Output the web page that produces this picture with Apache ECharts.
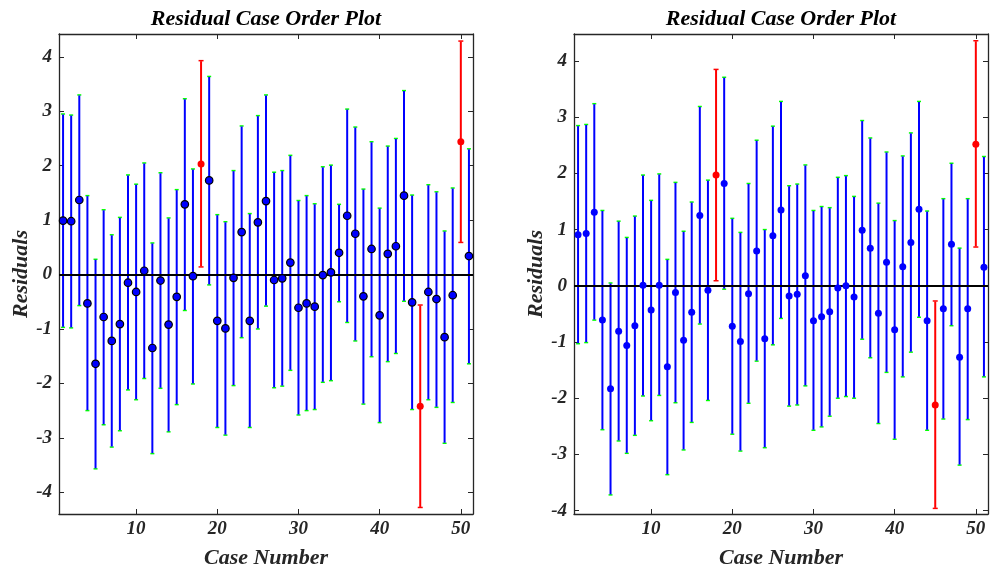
<!DOCTYPE html>
<html>
<head>
<meta charset="utf-8">
<script src="https://cdn.jsdelivr.net/npm/echarts@6/dist/echarts.min.js"></script>
<style>html,body{margin:0;padding:0;background:#fff}#c{width:996px;height:571px}</style>
</head>
<body>
<div id="c"></div>
<script>
const caseNo = [1,2,3,4,5,6,7,8,9,10,11,12,13,14,15,16,17,18,19,20,21,22,23,24,25,26,27,28,29,30,31,32,33,34,35,36,37,38,39,40,41,42,43,44,45,46,47,48,49,50,51];
const outlierCases = [18,45,50];
const xTicks = [10,20,30,40,50];
const yTicks = [-4,-3,-2,-1,0,1,2,3,4];

const leftResid = [0.99,0.98,1.37,-0.53,-1.64,-0.78,-1.22,-0.91,-0.15,-0.32,0.07,-1.35,-0.11,-0.92,-0.41,1.29,-0.03,2.03,1.73,-0.85,-0.99,-0.06,0.78,-0.85,0.96,1.35,-0.10,-0.07,0.22,-0.61,-0.53,-0.59,-0.01,0.04,0.40,1.08,0.75,-0.40,0.47,-0.75,0.38,0.52,1.45,-0.51,-2.42,-0.32,-0.45,-1.15,-0.38,2.44,0.34];
const leftLower = [-0.97,-0.98,-0.57,-2.50,-3.57,-2.76,-3.17,-2.87,-2.12,-2.30,-1.91,-3.29,-2.09,-2.89,-2.39,-0.66,-2.01,0.14,-0.19,-2.81,-2.95,-2.04,-1.16,-2.81,-1.00,-0.58,-2.08,-2.05,-1.76,-2.58,-2.50,-2.48,-1.98,-1.95,-0.50,-0.88,-1.22,-2.38,-1.51,-2.72,-1.60,-1.45,-0.49,-2.48,-4.28,-2.30,-2.44,-3.10,-2.35,0.59,-1.64];
const leftUpper = [2.95,2.93,3.30,1.45,0.28,1.19,0.73,1.05,1.83,1.66,2.05,0.58,1.87,1.04,1.56,3.23,1.94,3.93,3.64,1.10,0.97,1.91,2.73,1.12,2.92,3.30,1.88,1.91,2.19,1.36,1.45,1.30,1.98,2.01,1.29,3.04,2.71,1.57,2.44,1.22,2.36,2.50,3.38,1.46,-0.56,1.65,1.52,0.80,1.59,4.29,2.31];

const rightResid = [0.91,0.93,1.31,-0.61,-1.83,-0.81,-1.06,-0.71,0.01,-0.43,0.01,-1.44,-0.12,-0.97,-0.47,1.25,-0.08,1.97,1.82,-0.72,-0.99,-0.14,0.62,-0.94,0.89,1.35,-0.18,-0.15,0.18,-0.62,-0.55,-0.46,-0.04,0.00,-0.20,0.99,0.67,-0.49,0.42,-0.78,0.34,0.77,1.36,-0.62,-2.12,-0.41,0.74,-1.27,-0.41,2.52,0.33];
const rightLower = [-1.03,-1.01,-0.61,-2.56,-3.72,-2.76,-2.98,-2.66,-1.96,-2.40,-1.95,-3.36,-2.08,-2.92,-2.43,-0.68,-2.04,0.09,-0.06,-2.64,-2.94,-2.09,-1.34,-2.88,-1.05,-0.58,-2.14,-2.12,-1.78,-2.57,-2.51,-2.32,-2.00,-1.97,-2.00,-0.95,-1.28,-2.45,-1.54,-2.73,-1.62,-1.18,-0.56,-2.57,-3.96,-2.37,-0.71,-3.19,-2.38,0.69,-1.62];
const rightUpper = [2.85,2.87,3.24,1.34,0.05,1.15,0.86,1.24,1.97,1.52,1.99,0.47,1.84,0.97,1.49,3.19,1.88,3.85,3.71,1.20,0.95,1.82,2.59,1.00,2.84,3.28,1.78,1.81,2.15,1.34,1.41,1.39,1.93,1.96,1.59,2.94,2.63,1.47,2.38,1.16,2.31,2.72,3.28,1.33,-0.27,1.55,2.18,0.67,1.55,4.36,2.30];

const FONT = '"Liberation Serif", "Times New Roman", serif';
const TXT = '#262626';

function barData(lo, hi) {
  return caseNo.map((c, i) => [c, lo[i], hi[i], outlierCases.includes(c) ? 1 : 0]);
}
function ptData(res, wantOut) {
  const out = [];
  caseNo.forEach((c, i) => {
    const isOut = outlierCases.includes(c);
    if (isOut === wantOut) out.push([c, res[i]]);
  });
  return out;
}
function errRender(params, api) {
  const x = api.value(0), lo = api.value(1), hi = api.value(2), isOut = api.value(3);
  const p1 = api.coord([x, hi]), p2 = api.coord([x, lo]);
  const col = isOut ? '#ff0000' : '#0000ff';
  const cap = isOut ? '#ff0000' : '#00ff00';
  const w = isOut ? 2.5 : 2;
  return {type: 'group', children: [
    {type: 'line', shape: {x1: p1[0] - w, y1: p1[1], x2: p1[0] + w, y2: p1[1]}, style: {stroke: cap, lineWidth: 1.5}},
    {type: 'line', shape: {x1: p2[0] - w, y1: p2[1], x2: p2[0] + w, y2: p2[1]}, style: {stroke: cap, lineWidth: 1.5}},
    {type: 'line', shape: {x1: p1[0], y1: p1[1] + 0.5, x2: p2[0], y2: p2[1] - 0.5}, style: {stroke: col, lineWidth: 2}}
  ]};
}

const labelStyle = {fontFamily: FONT, fontStyle: 'italic', fontWeight: 'bold', fontSize: 19, color: TXT};
const nameStyle = {fontFamily: FONT, fontStyle: 'italic', fontWeight: 'bold', fontSize: 22, color: TXT};
const lineSt = {color: TXT, width: 1.3};

function xAxes(g) {
  return [
    {type: 'value', gridIndex: g, min: 0.5, max: 51.5, position: 'bottom',
     axisLine: {show: true, onZero: false, lineStyle: lineSt},
     axisTick: {show: true, inside: true, length: 5, customValues: xTicks, lineStyle: {color: TXT}},
     axisLabel: Object.assign({customValues: xTicks, margin: 6}, labelStyle),
     splitLine: {show: false},
     name: 'Case Number', nameLocation: 'middle', nameGap: 33, nameTextStyle: nameStyle},
    {type: 'value', gridIndex: g, min: 0.5, max: 51.5, position: 'top',
     axisLine: {show: true, onZero: false, lineStyle: lineSt},
     axisTick: {show: true, inside: true, length: 5, customValues: xTicks, lineStyle: {color: TXT}},
     axisLabel: {show: false}, splitLine: {show: false}}
  ];
}
function yAxes(g, mn, mx) {
  return [
    {type: 'value', gridIndex: g, min: mn, max: mx, position: 'left',
     axisLine: {show: true, onZero: false, lineStyle: lineSt},
     axisTick: {show: true, inside: true, length: 5, customValues: yTicks, lineStyle: {color: TXT}},
     axisLabel: Object.assign({customValues: yTicks, margin: 7}, labelStyle),
     splitLine: {show: false},
     name: 'Residuals', nameLocation: 'middle', nameGap: 26, nameTextStyle: nameStyle},
    {type: 'value', gridIndex: g, min: mn, max: mx, position: 'right',
     axisLine: {show: true, onZero: false, lineStyle: lineSt},
     axisTick: {show: true, inside: true, length: 5, customValues: yTicks, lineStyle: {color: TXT}},
     axisLabel: {show: false}, splitLine: {show: false}}
  ];
}
function panelSeries(g, res, lo, hi, edge) {
  return [
    {type: 'custom', xAxisIndex: 2 * g, yAxisIndex: 2 * g, z: 2, renderItem: errRender,
     data: barData(lo, hi), silent: true,
     markLine: {silent: true, symbol: 'none', label: {show: false}, z: 3,
       lineStyle: {color: '#000', width: 2, type: 'solid'}, data: [{yAxis: 0}]}},
    {type: 'scatter', xAxisIndex: 2 * g, yAxisIndex: 2 * g, z: 4, symbol: 'circle',
     symbolSize: edge ? 7.5 : 7,
     itemStyle: edge ? {color: '#0000ff', borderColor: '#000', borderWidth: 1.2, opacity: 1} : {color: '#0000ff', opacity: 1},
     data: ptData(res, false)},
    {type: 'scatter', xAxisIndex: 2 * g, yAxisIndex: 2 * g, z: 4, symbol: 'circle', symbolSize: 7,
     itemStyle: {color: '#ff0000', opacity: 1}, data: ptData(res, true)}
  ];
}

const chart = echarts.init(document.getElementById('c'), null, {renderer: 'canvas'});
chart.setOption({
  animation: false,
  backgroundColor: '#fff',
  grid: [
    {left: 59, top: 34, width: 414, height: 480, containLabel: false, outerBoundsMode: 'none'},
    {left: 574, top: 34, width: 414, height: 480, containLabel: false, outerBoundsMode: 'none'}
  ],
  xAxis: xAxes(0).concat(xAxes(1)),
  yAxis: yAxes(0, -4.4, 4.42).concat(yAxes(1, -4.06, 4.48)),
  series: panelSeries(0, leftResid, leftLower, leftUpper, true)
    .concat(panelSeries(1, rightResid, rightLower, rightUpper, false)),
  graphic: [
    {type: 'text', x: 266, y: 19, style: {text: 'Residual Case Order Plot', align: 'center', verticalAlign: 'middle',
      font: 'italic bold 22px ' + FONT, fill: '#000'}},
    {type: 'text', x: 781, y: 19, style: {text: 'Residual Case Order Plot', align: 'center', verticalAlign: 'middle',
      font: 'italic bold 22px ' + FONT, fill: '#000'}}
  ]
});
</script>
</body>
</html>
